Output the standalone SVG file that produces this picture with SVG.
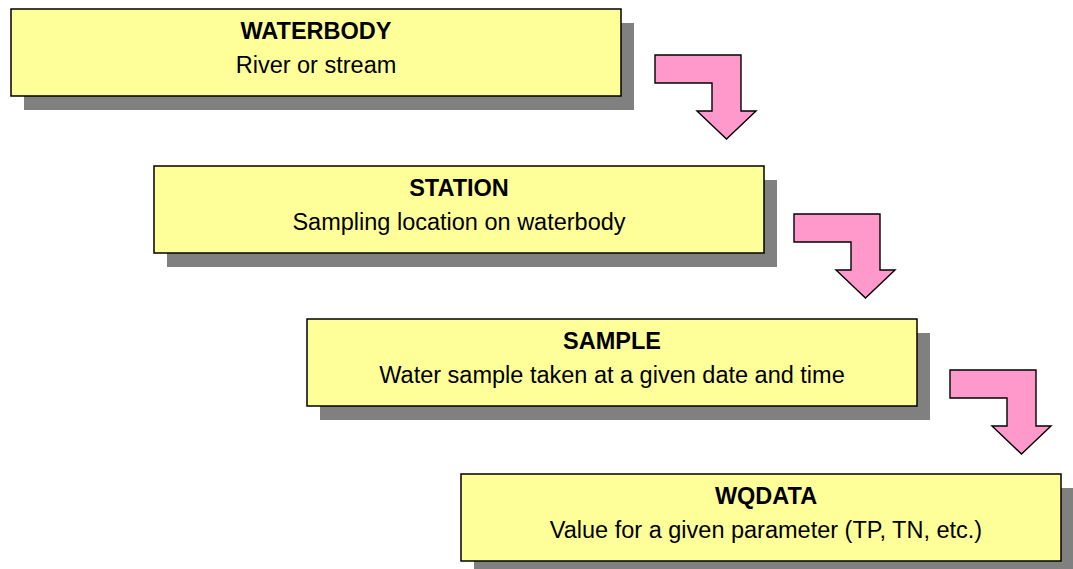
<svg xmlns="http://www.w3.org/2000/svg" width="1073" height="569" viewBox="0 0 1073 569">
<defs>
<style>
.shadow{fill:#808080;stroke:none}
.box{fill:#FFFF99;stroke:#000;stroke-width:1.5}
.title{font-family:"Liberation Sans",Arial,sans-serif;font-weight:bold;font-size:23.5px;fill:#000;text-anchor:middle}
.sub{font-family:"Liberation Sans",Arial,sans-serif;font-size:23.5px;fill:#000;text-anchor:middle}
.arrow{fill:#FF99CC;stroke:#000;stroke-width:1.4;stroke-linejoin:miter}
</style>
<path id="bend" d="M0,0 H86 V56 H101 L71.5,84 L42,56 H57 V28 H0 Z"/>
</defs>
<rect width="1073" height="569" fill="#fff"/>
<g id="waterbody">
<rect class="shadow" x="24" y="23" width="610" height="87"/>
<rect class="box" x="11" y="9" width="610" height="87"/>
<text class="title" x="316" y="39">WATERBODY</text>
<text class="sub" x="316" y="72.5">River or stream</text>
</g>
<g id="station">
<rect class="shadow" x="167" y="180" width="610" height="87"/>
<rect class="box" x="154" y="166" width="610" height="87"/>
<text class="title" x="459" y="196">STATION</text>
<text class="sub" x="459" y="229.5">Sampling location on waterbody</text>
</g>
<g id="sample">
<rect class="shadow" x="320" y="333" width="610" height="87"/>
<rect class="box" x="307" y="319" width="610" height="87"/>
<text class="title" x="612" y="349">SAMPLE</text>
<text class="sub" x="612" y="382.5">Water sample taken at a given date and time</text>
</g>
<g id="wqdata">
<rect class="shadow" x="474" y="488" width="600" height="87"/>
<rect class="box" x="461" y="474" width="600" height="87"/>
<text class="title" x="766" y="504">WQDATA</text>
<text class="sub" x="766" y="537.5">Value for a given parameter (TP, TN, etc.)</text>
</g>
<g id="connectors">
<use href="#bend" class="arrow" x="655" y="55"/>
<use href="#bend" class="arrow" x="794" y="214"/>
<use href="#bend" class="arrow" x="950" y="370"/>
</g>
</svg>
